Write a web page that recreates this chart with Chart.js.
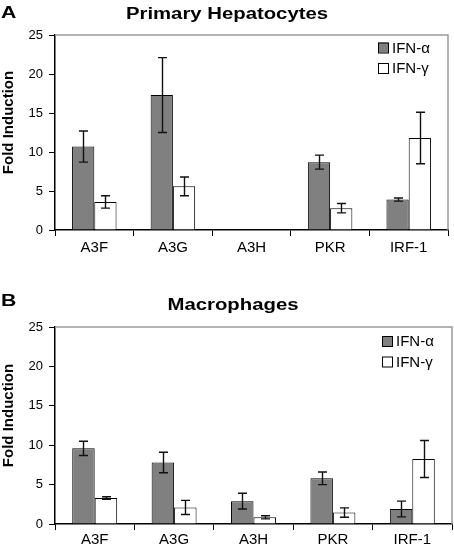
<!DOCTYPE html>
<html>
<head>
<meta charset="utf-8">
<script src="https://cdn.jsdelivr.net/npm/chart.js@4.4.0/dist/chart.umd.min.js"></script>
<style>
  html, body { margin: 0; padding: 0; background: #fff; }
  #wrap { position: relative; width: 454px; height: 546px; overflow: hidden; }
  canvas { position: absolute; left: 0; }
  #chartA { top: 0; }
  #chartB { top: 270px; }
</style>
</head>
<body>
<div id="wrap">
  <canvas id="chartA" width="454" height="270"></canvas>
  <canvas id="chartB" width="454" height="276"></canvas>
</div>
<script>
// categories and series
const categories = ['A3F', 'A3G', 'A3H', 'PKR', 'IRF-1'];
const seriesLabels = ['IFN-\u03b1', 'IFN-\u03b3'];
const yTicks = [0, 5, 10, 15, 20, 25];

// Primary hepatocytes (panel A)
const hepAlpha = [10.7, 17.3, 0, 8.7, 3.9];
const hepAlphaErr = [2.0, 4.8, 0, 0.9, 0.2];
const hepGamma = [3.6, 5.6, 0, 2.8, 11.8];
const hepGammaErr = [0.8, 1.2, 0, 0.6, 3.3];

// Macrophages (panel B)
const macAlpha = [9.6, 7.8, 2.9, 5.8, 1.9];
const macAlphaErr = [0.9, 1.3, 1.0, 0.8, 1.0];
const macGamma = [3.3, 2.1, 0.85, 1.45, 8.25];
const macGammaErr = [0.15, 0.9, 0.2, 0.6, 2.35];

const FONT = '"Liberation Sans", Arial, Helvetica, sans-serif';

// draw text squeezed/stretched horizontally (the source figure is a bit wide)
function wideText(ctx, text, x, y, sx, align) {
  ctx.save();
  ctx.translate(x, y);
  ctx.scale(sx, 1);
  ctx.textAlign = align;
  ctx.fillText(text, 0, 0);
  ctx.restore();
}

// error bars + frame + legend + labels
const decorPlugin = {
  id: 'decor',
  afterDatasetsDraw(chart) {
    const ctx = chart.ctx;
    const yScale = chart.scales.y;
    const errs = chart.options.plugins.decor.errors;
    ctx.save();
    ctx.strokeStyle = '#111';
    ctx.lineWidth = 1.4;
    chart.data.datasets.forEach((ds, di) => {
      const meta = chart.getDatasetMeta(di);
      meta.data.forEach((bar, i) => {
        const v = ds.data[i];
        const e = errs[di][i];
        if (!e) return;
        const x = Math.round(bar.x) + 0.5;
        const yt = yScale.getPixelForValue(v + e);
        const yb = yScale.getPixelForValue(v - e);
        ctx.beginPath();
        ctx.moveTo(x, yt); ctx.lineTo(x, yb);
        ctx.moveTo(x - 4.5, yt); ctx.lineTo(x + 4.5, yt);
        ctx.moveTo(x - 4.5, yb); ctx.lineTo(x + 4.5, yb);
        ctx.stroke();
      });
    });
    ctx.restore();
  },
  afterDraw(chart) {
    const o = chart.options.plugins.decor;
    const ctx = chart.ctx;
    const a = chart.chartArea;
    ctx.save();
    // gray frame on top and right
    ctx.strokeStyle = '#9a9a9a';
    ctx.lineWidth = 1.5;
    ctx.beginPath();
    ctx.moveTo(a.left, a.top);
    ctx.lineTo(a.right, a.top);
    ctx.lineTo(a.right, a.bottom);
    ctx.stroke();

    // legend inside plot area
    const colors = ['#808080', '#ffffff'];
    chart.data.datasets.forEach((ds, i) => {
      const bx = a.right - o.legendDx;
      const cy = a.top + o.legendDy + i * 20.5;
      ctx.fillStyle = colors[i];
      ctx.fillRect(bx, cy - 5, 10, 10);
      ctx.strokeStyle = '#000';
      ctx.lineWidth = 1;
      ctx.strokeRect(bx + 0.5, cy - 4.5, 10, 10);
      ctx.fillStyle = '#000';
      ctx.font = '15px ' + FONT;
      ctx.textBaseline = 'middle';
      ctx.textAlign = 'left';
      ctx.fillText(ds.label, bx + 14, cy + 1);
    });

    // panel letter and title
    ctx.fillStyle = '#000';
    ctx.textBaseline = 'alphabetic';
    ctx.font = 'bold 17px ' + FONT;
    wideText(ctx, o.letter, 1, o.letterY, 1.25, 'left');
    ctx.font = 'bold 16px ' + FONT;
    wideText(ctx, o.title, o.titleX, o.titleY, 1.27, 'center');

    // y axis title
    ctx.save();
    ctx.translate(8.5, (a.top + a.bottom) / 2 - 10);
    ctx.rotate(-Math.PI / 2);
    ctx.font = 'bold 15px ' + FONT;
    ctx.textAlign = 'center';
    ctx.textBaseline = 'middle';
    ctx.fillText('Fold Induction', 0, 0);
    ctx.restore();
    ctx.restore();
  }
};

function makeChart(id, alpha, alphaErr, gamma, gammaErr, cfg) {
  const ctx = document.getElementById(id).getContext('2d');
  return new Chart(ctx, {
    type: 'bar',
    data: {
      labels: categories,
      datasets: [
        { label: seriesLabels[0], data: alpha, backgroundColor: '#808080', borderColor: '#000', borderWidth: 1 },
        { label: seriesLabels[1], data: gamma, backgroundColor: '#ffffff', borderColor: '#000', borderWidth: 1 }
      ]
    },
    options: {
      responsive: false,
      animation: false,
      devicePixelRatio: 1,
      categoryPercentage: 0.566,
      barPercentage: 1,
      layout: { padding: { top: cfg.padTop, right: cfg.padRight, left: 0, bottom: 0 } },
      plugins: {
        legend: { display: false },
        tooltip: { enabled: false },
        decor: {
          errors: [alphaErr, gammaErr],
          letter: cfg.letter, letterY: cfg.letterY,
          title: cfg.title, titleX: cfg.titleX, titleY: cfg.titleY,
          legendDx: 70, legendDy: cfg.legendDy
        }
      },
      scales: {
        x: {
          afterFit: s => { s.height = cfg.xHeight; },
          grid: { display: true, drawOnChartArea: false, offset: true, color: '#000', tickLength: 6, lineWidth: 1 },
          border: { display: true, color: '#000', width: 1.5 },
          ticks: { color: '#000', font: { family: FONT, size: 15 }, padding: cfg.xPad, maxRotation: 0 }
        },
        y: {
          min: 0,
          max: yTicks[yTicks.length - 1],
          afterFit: s => { s.width = 55; },
          afterBuildTicks: s => { s.ticks = yTicks.map(v => ({ value: v })); },
          grid: { display: true, drawOnChartArea: false, color: '#000', tickLength: 6, lineWidth: 1 },
          border: { display: true, color: '#000', width: 1.5 },
          ticks: { color: '#000', font: { family: FONT, size: 13 }, padding: 6 }
        }
      }
    },
    plugins: [decorPlugin]
  });
}

makeChart('chartA', hepAlpha, hepAlphaErr, hepGamma, hepGammaErr, {
  letter: 'A', letterY: 17.5, title: 'Primary Hepatocytes', titleX: 227, titleY: 19,
  padTop: 35, padRight: 6, xHeight: 40, xPad: 3, legendDy: 12.5
});
makeChart('chartB', macAlpha, macAlphaErr, macGamma, macGammaErr, {
  letter: 'B', letterY: 35.5, title: 'Macrophages', titleX: 233, titleY: 40,
  padTop: 57, padRight: 2, xHeight: 22, xPad: 1, legendDy: 14
});
</script>
</body>
</html>
